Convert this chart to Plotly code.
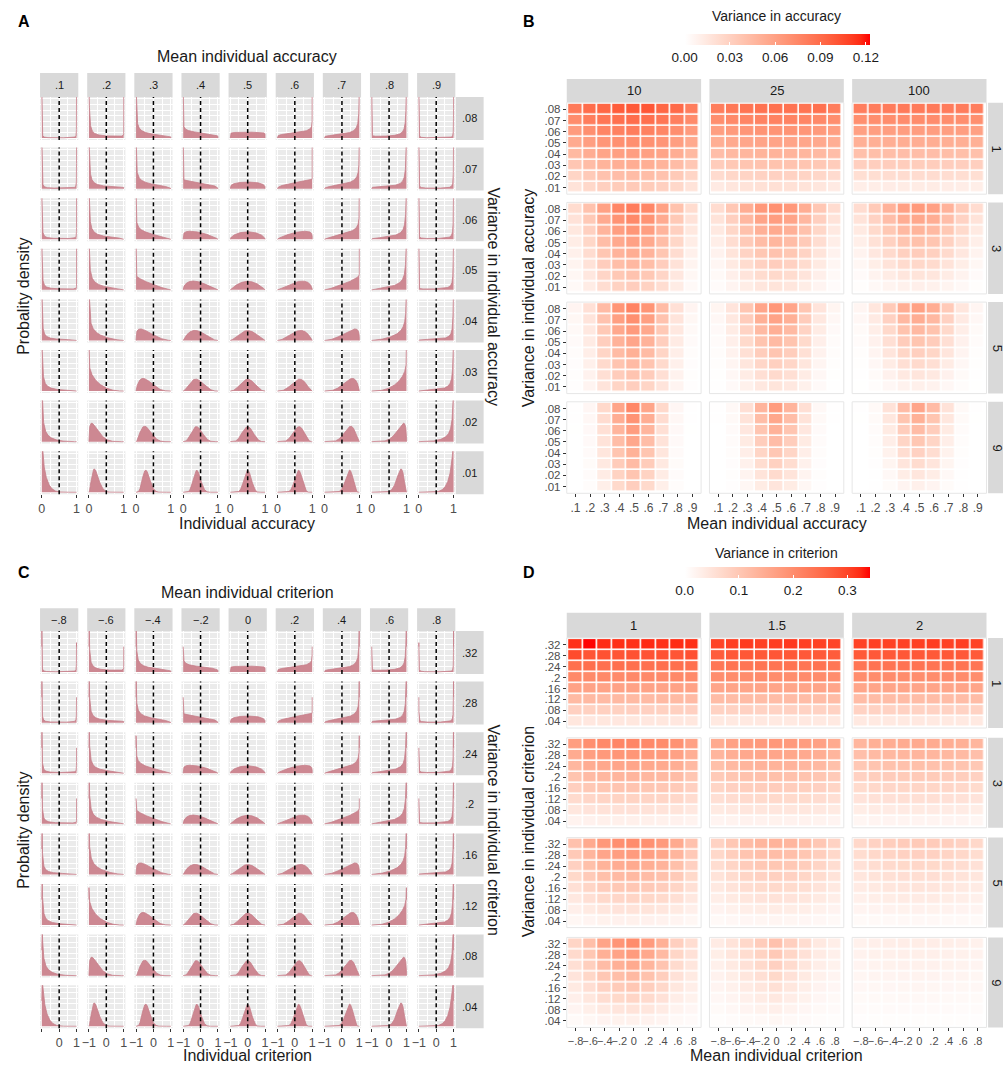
import math
import plotly.graph_objects as go

W, H = 1003, 1066
FONT = "Liberation Sans, Arial, sans-serif"

# ---------------- data ----------------
acc_means = [.1, .2, .3, .4, .5, .6, .7, .8, .9]
acc_mean_labels = [".1", ".2", ".3", ".4", ".5", ".6", ".7", ".8", ".9"]
acc_vars = [.08, .07, .06, .05, .04, .03, .02, .01]          # top -> bottom
acc_var_labels = [".08", ".07", ".06", ".05", ".04", ".03", ".02", ".01"]

crit_means = [-.8, -.6, -.4, -.2, 0, .2, .4, .6, .8]
crit_mean_labels = ["\u2212.8", "\u2212.6", "\u2212.4", "\u2212.2", "0", ".2", ".4", ".6", ".8"]
crit_vars = [.32, .28, .24, .2, .16, .12, .08, .04]           # top -> bottom
crit_var_labels = [".32", ".28", ".24", ".2", ".16", ".12", ".08", ".04"]

group_sizes = ["10", "25", "100"]
sensitivities = ["1", "1.5", "2"]
members = ["1", "3", "5", "9"]

# Variance in accuracy (x 1e-4), rows: var .08 (top) -> .01 (bottom), cols: mean .1 -> .9
accvar_k1_n10 = [[820, 890, 925, 975, 985, 1000, 925, 905, 800],
                 [720, 800, 840, 875, 890, 880, 840, 790, 725],
                 [630, 700, 755, 780, 800, 780, 750, 705, 630],
                 [540, 615, 660, 695, 700, 690, 665, 610, 545],
                 [450, 520, 570, 605, 610, 600, 575, 520, 450],
                 [365, 430, 480, 510, 520, 515, 480, 430, 360],
                 [270, 340, 390, 420, 430, 425, 390, 340, 270],
                 [180, 250, 300, 330, 340, 330, 300, 250, 180]]
accvar_k1_n25 = [[804, 832, 852, 864, 868, 864, 852, 870, 804],
                 [708, 736, 756, 768, 772, 768, 756, 736, 708],
                 [612, 640, 660, 672, 676, 672, 660, 640, 612],
                 [516, 544, 564, 576, 580, 576, 564, 544, 516],
                 [420, 448, 468, 480, 484, 480, 468, 448, 420],
                 [324, 352, 372, 384, 388, 384, 372, 352, 324],
                 [228, 256, 276, 288, 292, 288, 276, 256, 228],
                 [132, 160, 180, 192, 196, 192, 180, 160, 132]]
accvar_k1_n100 = [[801, 808, 813, 816, 817, 816, 813, 808, 801],
                  [702, 709, 714, 717, 718, 717, 714, 709, 702],
                  [603, 610, 615, 618, 619, 618, 615, 610, 603],
                  [504, 511, 516, 519, 520, 519, 516, 511, 504],
                  [405, 412, 417, 420, 421, 420, 417, 412, 405],
                  [306, 313, 318, 321, 322, 321, 318, 313, 306],
                  [207, 214, 219, 222, 223, 222, 219, 214, 207],
                  [108, 115, 120, 123, 124, 123, 120, 115, 108]]
accvar_k3_n10 = [[226, 395, 596, 751, 808, 751, 596, 395, 226],
                 [185, 347, 536, 681, 735, 681, 536, 347, 185],
                 [150, 302, 478, 613, 663, 613, 478, 302, 150],
                 [119, 260, 423, 546, 592, 546, 423, 260, 119],
                 [92, 222, 369, 481, 522, 481, 369, 222, 92],
                 [70, 186, 317, 417, 453, 417, 317, 186, 70],
                 [52, 153, 267, 353, 385, 353, 267, 153, 52],
                 [38, 122, 217, 290, 318, 290, 217, 122, 38]]
accvar_k3_n25 = [[223, 359, 523, 649, 696, 649, 523, 359, 223],
                 [180, 308, 459, 575, 617, 575, 459, 308, 180],
                 [142, 260, 397, 502, 540, 502, 397, 260, 142],
                 [108, 215, 338, 431, 465, 431, 338, 215, 108],
                 [80, 174, 281, 361, 390, 361, 281, 174, 80],
                 [57, 136, 225, 292, 317, 292, 225, 136, 57],
                 [37, 101, 171, 225, 244, 225, 171, 101, 37],
                 [22, 68, 119, 158, 172, 158, 119, 68, 22]]
accvar_k3_n100 = [[222, 341, 487, 598, 639, 598, 487, 341, 222],
                  [177, 288, 421, 521, 558, 521, 421, 288, 177],
                  [137, 239, 357, 446, 479, 446, 357, 239, 137],
                  [103, 193, 296, 373, 401, 373, 296, 193, 103],
                  [74, 151, 237, 301, 325, 301, 237, 151, 74],
                  [50, 111, 179, 230, 249, 230, 179, 111, 50],
                  [30, 75, 124, 160, 174, 160, 124, 75, 30],
                  [14, 41, 70, 91, 99, 91, 70, 41, 14]]
accvar_k5_n10 = [[65, 194, 432, 669, 769, 669, 432, 194, 65],
                 [50, 170, 389, 609, 701, 609, 389, 170, 50],
                 [38, 147, 349, 550, 635, 550, 349, 147, 38],
                 [28, 127, 310, 492, 569, 492, 310, 127, 28],
                 [21, 109, 272, 436, 505, 436, 272, 109, 21],
                 [16, 93, 236, 380, 440, 380, 236, 93, 16],
                 [12, 79, 202, 325, 377, 325, 202, 79, 12],
                 [10, 66, 169, 271, 313, 271, 169, 66, 10]]
accvar_k5_n25 = [[64, 171, 370, 569, 653, 569, 370, 171, 64],
                 [47, 144, 324, 505, 581, 505, 324, 144, 47],
                 [35, 121, 281, 442, 510, 442, 281, 121, 35],
                 [25, 99, 239, 381, 441, 381, 239, 99, 25],
                 [17, 80, 199, 320, 372, 320, 199, 80, 17],
                 [12, 63, 161, 261, 303, 261, 161, 63, 12],
                 [8, 48, 124, 202, 235, 202, 124, 48, 8],
                 [5, 34, 89, 144, 168, 144, 89, 34, 5]]
accvar_k5_n100 = [[63, 159, 339, 519, 596, 519, 339, 159, 63],
                  [46, 132, 292, 453, 521, 453, 292, 132, 46],
                  [33, 107, 247, 388, 448, 388, 247, 107, 33],
                  [23, 86, 204, 325, 376, 325, 204, 86, 23],
                  [15, 66, 163, 263, 305, 263, 163, 66, 15],
                  [9, 48, 124, 201, 235, 201, 124, 48, 9],
                  [5, 32, 86, 141, 164, 141, 86, 32, 5],
                  [3, 18, 49, 81, 95, 81, 49, 18, 3]]
accvar_k9_n10 = [[6, 53, 246, 570, 745, 570, 246, 53, 6],
                 [4, 46, 222, 520, 681, 520, 222, 46, 4],
                 [3, 40, 199, 471, 617, 471, 199, 40, 3],
                 [2, 35, 178, 423, 555, 423, 178, 35, 2],
                 [1, 30, 158, 376, 493, 376, 158, 30, 1],
                 [1, 27, 139, 330, 432, 330, 139, 27, 1],
                 [1, 24, 121, 284, 371, 284, 121, 24, 1],
                 [1, 21, 105, 240, 311, 240, 105, 21, 1]]
accvar_k9_n25 = [[6, 44, 203, 478, 627, 478, 203, 44, 6],
                 [4, 36, 177, 424, 559, 424, 177, 36, 4],
                 [2, 30, 153, 372, 492, 372, 153, 30, 2],
                 [2, 24, 131, 321, 426, 321, 131, 24, 2],
                 [1, 20, 109, 270, 360, 270, 109, 20, 1],
                 [1, 16, 89, 221, 294, 221, 89, 16, 1],
                 [0, 12, 70, 173, 229, 173, 70, 12, 0],
                 [0, 10, 52, 125, 165, 125, 52, 10, 0]]
accvar_k9_n100 = [[6, 39, 182, 432, 569, 432, 182, 39, 6],
                  [3, 31, 155, 376, 499, 376, 155, 31, 3],
                  [2, 25, 130, 322, 429, 322, 130, 25, 2],
                  [1, 19, 107, 270, 361, 270, 107, 19, 1],
                  [1, 14, 85, 218, 293, 218, 85, 14, 1],
                  [0, 10, 64, 167, 225, 167, 64, 10, 0],
                  [0, 7, 44, 117, 158, 117, 44, 7, 0],
                  [0, 4, 26, 68, 92, 68, 26, 4, 0]]

# Variance in criterion (x 1e-3), rows: var .32 (top) -> .04 (bottom), cols: mean -.8 -> .8
critvar_k1_d1 = [[318, 340, 322, 320, 318, 324, 318, 322, 320],
                 [292, 280, 284, 280, 284, 282, 284, 280, 286],
                 [244, 245, 243, 245, 244, 243, 245, 244, 243],
                 [204, 203, 205, 203, 204, 205, 203, 204, 203],
                 [163, 164, 162, 164, 163, 164, 162, 163, 164],
                 [123, 124, 122, 124, 123, 122, 124, 123, 122],
                 [83, 82, 84, 82, 83, 83, 82, 84, 83],
                 [43, 42, 43, 42, 43, 42, 43, 42, 43]]
critvar_k1_d15 = [[300, 306, 310, 304, 308, 312, 306, 304, 300],
                  [272, 276, 278, 275, 279, 277, 276, 274, 272],
                  [234, 238, 236, 239, 237, 238, 236, 238, 234],
                  [198, 200, 199, 201, 200, 199, 201, 200, 198],
                  [158, 160, 159, 161, 160, 159, 160, 161, 158],
                  [119, 120, 121, 120, 119, 121, 120, 120, 119],
                  [80, 80, 81, 80, 80, 81, 80, 80, 80],
                  [40, 40, 40, 41, 40, 40, 41, 40, 40]]
critvar_k1_d2 = [[302, 306, 304, 303, 306, 308, 304, 306, 302],
                 [274, 276, 275, 277, 276, 275, 277, 276, 274],
                 [236, 238, 237, 238, 239, 237, 238, 237, 236],
                 [199, 200, 201, 200, 199, 200, 201, 200, 199],
                 [159, 160, 160, 161, 160, 160, 159, 160, 159],
                 [119, 120, 120, 121, 120, 119, 120, 120, 119],
                 [80, 80, 80, 81, 80, 80, 80, 80, 80],
                 [40, 40, 40, 40, 41, 40, 40, 40, 40]]
critvar_k3_d1 = [[170, 195, 205, 210, 210, 205, 200, 190, 165],
                 [149, 171, 179, 184, 184, 179, 175, 166, 144],
                 [128, 146, 154, 158, 158, 154, 150, 143, 124],
                 [106, 122, 128, 131, 131, 128, 125, 119, 103],
                 [85, 98, 103, 105, 105, 103, 100, 95, 83],
                 [64, 73, 77, 79, 79, 77, 75, 71, 62],
                 [43, 49, 51, 53, 53, 51, 50, 48, 41],
                 [21, 24, 26, 26, 26, 26, 25, 24, 21]]
critvar_k3_d15 = [[150, 165, 175, 178, 180, 178, 172, 165, 150],
                  [131, 144, 153, 156, 158, 156, 151, 144, 131],
                  [113, 124, 131, 134, 135, 134, 129, 124, 113],
                  [94, 103, 109, 111, 113, 111, 108, 103, 94],
                  [75, 83, 88, 89, 90, 89, 86, 83, 75],
                  [56, 62, 66, 67, 68, 67, 65, 62, 56],
                  [38, 41, 44, 45, 45, 45, 43, 41, 38],
                  [19, 21, 22, 22, 23, 22, 22, 21, 19]]
critvar_k3_d2 = [[130, 140, 145, 148, 150, 148, 145, 140, 130],
                 [114, 123, 127, 130, 131, 130, 127, 123, 114],
                 [98, 105, 109, 111, 113, 111, 109, 105, 98],
                 [81, 88, 91, 93, 94, 93, 91, 88, 81],
                 [65, 70, 73, 74, 75, 74, 73, 70, 65],
                 [49, 53, 54, 56, 56, 56, 54, 53, 49],
                 [33, 35, 36, 37, 38, 37, 36, 35, 33],
                 [16, 18, 18, 19, 19, 19, 18, 18, 16]]
critvar_k5_d1 = [[110, 150, 180, 195, 200, 192, 178, 150, 110],
                 [96, 131, 158, 171, 175, 168, 156, 131, 96],
                 [83, 113, 135, 146, 150, 144, 134, 113, 83],
                 [69, 94, 113, 122, 125, 120, 111, 94, 69],
                 [55, 75, 90, 98, 100, 96, 89, 75, 55],
                 [41, 56, 68, 73, 75, 72, 67, 56, 41],
                 [28, 38, 45, 49, 50, 48, 45, 38, 28],
                 [14, 19, 23, 24, 25, 24, 22, 19, 14]]
critvar_k5_d15 = [[80, 100, 120, 130, 135, 130, 118, 100, 80],
                  [70, 88, 105, 114, 118, 114, 103, 88, 70],
                  [60, 75, 90, 98, 101, 98, 89, 75, 60],
                  [50, 63, 75, 81, 84, 81, 74, 63, 50],
                  [40, 50, 60, 65, 68, 65, 59, 50, 40],
                  [30, 38, 45, 49, 51, 49, 44, 38, 30],
                  [20, 25, 30, 33, 34, 33, 30, 25, 20],
                  [10, 13, 15, 16, 17, 16, 15, 13, 10]]
critvar_k5_d2 = [[70, 80, 88, 92, 95, 92, 88, 80, 70],
                 [61, 70, 77, 81, 83, 81, 77, 70, 61],
                 [53, 60, 66, 69, 71, 69, 66, 60, 53],
                 [44, 50, 55, 58, 59, 58, 55, 50, 44],
                 [35, 40, 44, 46, 48, 46, 44, 40, 35],
                 [26, 30, 33, 35, 36, 35, 33, 30, 26],
                 [18, 20, 22, 23, 24, 23, 22, 20, 18],
                 [9, 10, 11, 12, 12, 12, 11, 10, 9]]
critvar_k9_d1 = [[75, 115, 160, 185, 200, 175, 140, 85, 60],
                 [66, 101, 140, 162, 175, 153, 123, 74, 53],
                 [56, 86, 120, 139, 150, 131, 105, 64, 45],
                 [47, 72, 100, 116, 125, 109, 88, 53, 38],
                 [38, 58, 80, 93, 100, 88, 70, 43, 30],
                 [28, 43, 60, 69, 75, 66, 53, 32, 23],
                 [19, 29, 40, 46, 50, 44, 35, 21, 15],
                 [9, 14, 20, 23, 25, 22, 18, 11, 8]]
critvar_k9_d15 = [[35, 50, 70, 90, 110, 85, 60, 40, 30],
                  [31, 44, 61, 79, 96, 74, 53, 35, 26],
                  [26, 38, 53, 68, 83, 64, 45, 30, 23],
                  [22, 31, 44, 56, 69, 53, 38, 25, 19],
                  [18, 25, 35, 45, 55, 43, 30, 20, 15],
                  [13, 19, 26, 34, 41, 32, 23, 15, 11],
                  [9, 13, 18, 23, 28, 21, 15, 10, 8],
                  [4, 6, 9, 11, 14, 11, 8, 5, 4]]
critvar_k9_d2 = [[25, 28, 30, 32, 33, 32, 30, 28, 25],
                 [22, 25, 26, 28, 29, 28, 26, 25, 22],
                 [19, 21, 23, 24, 25, 24, 23, 21, 19],
                 [16, 18, 19, 20, 21, 20, 19, 18, 16],
                 [13, 14, 15, 16, 17, 16, 15, 14, 13],
                 [9, 11, 11, 12, 12, 12, 11, 11, 9],
                 [6, 7, 8, 8, 8, 8, 8, 7, 6],
                 [3, 4, 4, 4, 4, 4, 4, 4, 3]]

acc_tables = [[accvar_k1_n10, accvar_k1_n25, accvar_k1_n100],
              [accvar_k3_n10, accvar_k3_n25, accvar_k3_n100],
              [accvar_k5_n10, accvar_k5_n25, accvar_k5_n100],
              [accvar_k9_n10, accvar_k9_n25, accvar_k9_n100]]
crit_tables = [[critvar_k1_d1, critvar_k1_d15, critvar_k1_d2],
               [critvar_k3_d1, critvar_k3_d15, critvar_k3_d2],
               [critvar_k5_d1, critvar_k5_d15, critvar_k5_d2],
               [critvar_k9_d1, critvar_k9_d15, critvar_k9_d2]]

# ---------------- styling helpers ----------------
PANEL_BG = "#EBEBEB"
STRIP_BG = "#D9D9D9"
DENS_FILL = "#CD8892"
DENS_LINE = "#C77F8A"


def lab_to_rgb(L, a, b):
    fy = (L + 16) / 116
    fx = fy + a / 500
    fz = fy - b / 200

    def finv(t):
        return t ** 3 if t > 6 / 29 else 3 * (6 / 29) ** 2 * (t - 4 / 29)
    X, Y, Z = 0.95047 * finv(fx), 1.0 * finv(fy), 1.08883 * finv(fz)
    rl = 3.2406 * X - 1.5372 * Y - 0.4986 * Z
    gl = -0.9689 * X + 1.8758 * Y + 0.0415 * Z
    bl = 0.0557 * X - 0.2040 * Y + 1.0570 * Z

    def gam(c):
        c = 12.92 * c if c <= 0.0031308 else 1.055 * c ** (1 / 2.4) - 0.055
        return int(round(min(max(c, 0), 1) * 255))
    return f"rgb({gam(rl)},{gam(gl)},{gam(bl)})"


WHITE_LAB = (100.0, 0.0, 0.0)
RED_LAB = (53.24, 80.09, 67.20)
colorscale = []
for s in range(21):
    t = s / 20
    colorscale.append([t, lab_to_rgb(*[w + (r - w) * t for w, r in zip(WHITE_LAB, RED_LAB)])])

layout = {}
traces = []
shapes = []
annotations = []
counter = [0]


def new_axes(x0, x1, y0, y1):
    counter[0] += 1
    i = counter[0]
    xn = "x" if i == 1 else f"x{i}"
    yn = "y" if i == 1 else f"y{i}"
    xk = "xaxis" if i == 1 else f"xaxis{i}"
    yk = "yaxis" if i == 1 else f"yaxis{i}"
    layout[xk] = dict(domain=[x0 / W, x1 / W], anchor=yn, showline=False, zeroline=False)
    layout[yk] = dict(domain=[1 - y1 / H, 1 - y0 / H], anchor=xn, showline=False, zeroline=False)
    return xn, yn, xk, yk


def rect(x0, y0, x1, y1, fill, line=None, layer="below"):
    shapes.append(dict(type="rect", xref="paper", yref="paper", x0=x0 / W, x1=x1 / W,
                       y0=1 - y1 / H, y1=1 - y0 / H, fillcolor=fill, layer=layer,
                       line=dict(width=1 if line else 0, color=line or "rgba(0,0,0,0)")))


def text(x, y, s, size=12, color="#1A1A1A", angle=0, xanchor="center", yanchor="middle"):
    annotations.append(dict(x=x / W, y=1 - y / H, xref="paper", yref="paper", text=s, showarrow=False,
                            textangle=angle, xanchor=xanchor, yanchor=yanchor,
                            font=dict(size=size, color=color, family=FONT)))


def beta_curve(m, v, lo, hi, cap):
    """Beta density with mean m / variance v on [0,1], evaluated on a 0.001 grid, mapped onto [lo, hi]."""
    s = m * (1 - m) / v - 1
    a, b = m * s, (1 - m) * s
    lnB = math.lgamma(a) + math.lgamma(b) - math.lgamma(a + b)
    xs, ys = [], []
    N = 1000
    for i in range(N + 1):
        u = i / N
        if i == 0:
            d = cap if a < 1 else (math.exp(-lnB) if a == 1 else 0.0)
        elif i == N:
            d = cap if b < 1 else (math.exp(-lnB) if b == 1 else 0.0)
        else:
            d = math.exp((a - 1) * math.log(u) + (b - 1) * math.log(1 - u) - lnB)
        xs.append(lo + (hi - lo) * u)
        ys.append(min(d / (hi - lo), cap))
    return xs, ys


# ---------------- density grids (A and C) ----------------
GX0, GPX, GW = 35.3, 47.46, 38.5
GPY, GH = 50.6, 43


def density_grid(top, strip_top, means, mean_labels, vars_, var_labels, lo, hi, ymax, vline,
                 tickvals, ticktexts_first, ticktexts):
    yr = [-0.05 * ymax, 1.05 * ymax]
    span = hi - lo
    xr = [lo - 0.05 * span, hi + 0.05 * span]
    for c in range(len(means)):
        x0 = GX0 + c * GPX
        rect(x0, strip_top, x0 + GW, top, STRIP_BG)
        text(x0 + GW / 2, (strip_top + top) / 2, mean_labels[c], size=11)
    for r in range(len(vars_)):
        y0 = top + r * GPY
        rect(454, y0, 482, y0 + GH, STRIP_BG)
        text(468, y0 + GH / 2, var_labels[r], size=11)
        for c in range(len(means)):
            x0 = GX0 + c * GPX
            xn, yn, xk, yk = new_axes(x0, x0 + GW, y0, y0 + GH)
            rect(x0, y0, x0 + GW, y0 + GH, PANEL_BG)
            xs, ys = beta_curve((means[c] - lo) / span, vars_[r] / span ** 2, lo, hi, ymax * 1.3)
            traces.append(go.Scatter(x=xs, y=ys, xaxis=xn, yaxis=yn, mode="lines", fill="tozeroy",
                                     fillcolor=DENS_FILL, line=dict(color=DENS_LINE, width=0.8),
                                     hoverinfo="skip", showlegend=False))
            shapes.append(dict(type="line", xref=xn, yref=f"{yn} domain", x0=vline, x1=vline, y0=0, y1=1,
                               line=dict(color="black", width=1.5, dash="4px,3px"), layer="above"))
            bottom = r == len(vars_) - 1
            layout[xk].update(range=xr, tickvals=tickvals,
                              ticktext=(ticktexts_first if c == 0 else ticktexts),
                              showticklabels=bottom, ticks="outside" if bottom else "",
                              ticklen=3, tickcolor="#333333", tickwidth=1,
                              tickfont=dict(size=12.5, color="#4D4D4D", family=FONT),
                              showgrid=True, gridcolor="white", gridwidth=1,
                              minor=dict(tickvals=[lo + span * 0.25, lo + span * 0.5, lo + span * 0.75],
                                         showgrid=True, gridcolor="white", gridwidth=0.6, ticks=""))
            layout[yk].update(range=yr, showticklabels=False, ticks="",
                              tickvals=[ymax * f for f in (0, 2 / 7, 4 / 7, 6 / 7)],
                              showgrid=True, gridcolor="white", gridwidth=1,
                              minor=dict(tickvals=[ymax * f for f in (1 / 7, 3 / 7, 5 / 7, 7 / 7)],
                                         showgrid=True, gridcolor="white", gridwidth=0.6, ticks=""))


density_grid(97, 73, acc_means, acc_mean_labels, acc_vars, acc_var_labels, 0.0, 1.0, 6.9, 0.5,
             [0, 1], ["0", "1"], ["0", "1"])
density_grid(631, 608.3, crit_means, crit_mean_labels, crit_vars, crit_var_labels, -1.0, 1.0, 3.45, 0.0,
             [-1, 0, 1], ["", "0", "1"], ["\u22121", "0", "1"])

# titles for A and C
text(19, 21, "<b>A</b>", size=16, color="black", xanchor="center")
text(244, 56, "Mean individual accuracy", size=16)
text(244, 523, "Individual accuracy", size=16)
text(18, 296, "Probality density", size=16, angle=-90)
text(492, 296, "Variance in individual accuracy", size=16, angle=90)

text(19, 572, "<b>C</b>", size=16, color="black", xanchor="center")
text(244, 592, "Mean individual criterion", size=16)
text(244, 1055, "Individual criterion", size=16)
text(18, 830, "Probality density", size=16, angle=-90)
text(492, 830, "Variance in individual criterion", size=16, angle=90)

# ---------------- heatmap grids (B and D) ----------------
HX0, HPX, HW = 565.7, 143.7, 135.3


def heat_grid(top, strip_top, ph, py_, tables, col_labels, var_labels, mean_labels, scale, coloraxis, xfont):
    for c in range(3):
        x0 = HX0 + c * HPX
        rect(x0, strip_top, x0 + HW, top, STRIP_BG)
        text(x0 + HW / 2, (strip_top + top) / 2, col_labels[c], size=13)
    for r in range(4):
        y0 = top + r * py_
        rect(990, y0, 1030, y0 + ph, STRIP_BG)
        text(999, y0 + ph / 2, members[r], size=13, angle=90)
        for c in range(3):
            x0 = HX0 + c * HPX
            xn, yn, xk, yk = new_axes(x0, x0 + HW, y0, y0 + ph)
            rect(x0, y0, x0 + HW, y0 + ph, "white", line="#E6E6E6")
            tab = tables[r][c]
            z = [[val * scale for val in row] for row in tab[::-1]]
            traces.append(go.Heatmap(z=z, x=list(range(9)), y=list(range(8)), xaxis=xn, yaxis=yn,
                                     coloraxis=coloraxis, xgap=1.6, ygap=1.6, hoverinfo="skip"))
            bottom = r == 3
            left = c == 0
            layout[xk].update(range=[-0.6, 8.6], tickvals=list(range(9)), ticktext=mean_labels,
                              showticklabels=bottom, ticks="outside" if bottom else "", ticklen=3,
                              tickcolor="#333333", tickangle=0, showgrid=False,
                              tickfont=dict(size=xfont, color="#4D4D4D", family=FONT))
            layout[yk].update(range=[-0.6, 7.6], tickvals=list(range(8)), ticktext=var_labels[::-1],
                              showticklabels=left, ticks="outside" if left else "", ticklen=3,
                              tickcolor="#333333", showgrid=False,
                              tickfont=dict(size=11.5, color="#4D4D4D", family=FONT))


heat_grid(102.7, 79, 91.5, 99.7, acc_tables, group_sizes, acc_var_labels, acc_mean_labels, 1e-4,
          "coloraxis", 12)
heat_grid(638, 612.7, 90, 99.8, crit_tables, sensitivities, crit_var_labels, crit_mean_labels, 1e-3,
          "coloraxis2", 11)

text(528, 21, "<b>B</b>", size=16, color="black")
text(777, 16, "Variance in accuracy", size=14)
text(777, 523, "Mean individual accuracy", size=16)
text(527, 298, "Variance in individual accuracy", size=16, angle=-90)

text(528, 572, "<b>D</b>", size=16, color="black")
text(777, 553, "Variance in criterion", size=14)
text(777, 1055, "Mean individual criterion", size=16)
text(527, 832, "Variance in individual criterion", size=16, angle=-90)


def cbar(ytop, tickvals, ticktext):
    return dict(orientation="h", x=777.5 / W, xanchor="center", y=1 - ytop / H, yanchor="top",
                lenmode="pixels", len=185, thickness=11, thicknessmode="pixels", xpad=0, ypad=0,
                outlinewidth=0, tickvals=tickvals, ticktext=ticktext, ticks="inside", ticklen=3,
                tickcolor="white", tickfont=dict(size=13.5, color="#1A1A1A", family=FONT))


layout["coloraxis"] = dict(colorscale=colorscale, cmin=0, cmax=0.1225,
                           colorbar=cbar(34, [0, .03, .06, .09, .12], ["0.00", "0.03", "0.06", "0.09", "0.12"]))
layout["coloraxis2"] = dict(colorscale=colorscale, cmin=0, cmax=0.341,
                            colorbar=cbar(566.7, [0, .1, .2, .3], ["0.0", "0.1", "0.2", "0.3"]))

fig = go.Figure(data=traces)
fig.update_layout(**layout)
fig.update_layout(width=W, height=H, margin=dict(l=0, r=0, t=0, b=0), plot_bgcolor="white",
                  paper_bgcolor="white", showlegend=False, shapes=shapes, annotations=annotations,
                  font=dict(family=FONT))
fig.write_html("out.html", config={"displayModeBar": False},
               post_script="document.body.style.margin='0px';document.body.style.overflow='hidden';")
